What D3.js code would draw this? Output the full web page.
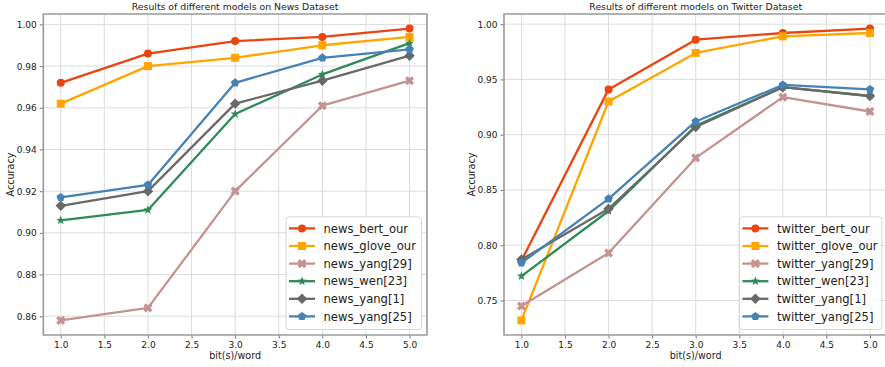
<!DOCTYPE html>
<html>
<head>
<meta charset="utf-8">
<script src="https://cdn.jsdelivr.net/npm/d3@7/dist/d3.min.js"></script>
<style>
  html, body { margin: 0; padding: 0; background: #fff; }
  svg { display: block; }
  text { font-family: "DejaVu Sans", sans-serif; fill: #222; }
</style>
</head>
<body>
<svg id="chart" width="885" height="367"></svg>
<script>
// Bits embedded per word (x axis)
const bits = [1, 2, 3, 4, 5];
const xTicks = [1.0, 1.5, 2.0, 2.5, 3.0, 3.5, 4.0, 4.5, 5.0];

// News dataset accuracies
const newsBertOur  = [0.972, 0.986, 0.992, 0.994, 0.998];
const newsGloveOur = [0.962, 0.980, 0.984, 0.990, 0.994];
const newsYang29   = [0.858, 0.864, 0.920, 0.961, 0.973];
const newsWen23    = [0.906, 0.911, 0.957, 0.976, 0.991];
const newsYang1    = [0.913, 0.920, 0.962, 0.973, 0.985];
const newsYang25   = [0.917, 0.923, 0.972, 0.984, 0.988];
const newsYTicks   = [0.86, 0.88, 0.90, 0.92, 0.94, 0.96, 0.98, 1.00];

// Twitter dataset accuracies
const twBertOur  = [0.786, 0.941, 0.986, 0.992, 0.996];
const twGloveOur = [0.732, 0.930, 0.974, 0.989, 0.992];
const twYang29   = [0.745, 0.793, 0.879, 0.934, 0.921];
const twWen23    = [0.772, 0.831, 0.908, 0.943, 0.935];
const twYang1    = [0.787, 0.833, 0.907, 0.943, 0.935];
const twYang25   = [0.784, 0.842, 0.912, 0.945, 0.941];
const twYTicks   = [0.75, 0.80, 0.85, 0.90, 0.95, 1.00];

const models = ["bert_our", "glove_our", "yang[29]", "wen[23]", "yang[1]", "yang[25]"];
const colors = ["#ea4410", "#ffa500", "#c4938f", "#2e8b57", "#696969", "#4682b4"];

// Marker shapes: circle, square, filled X, star, diamond, pentagon
const xShape = { draw(ctx, size) {
  const r = Math.sqrt(size) / 2, w = r * 0.36;
  const inner = w * Math.SQRT2;
  const outline = [];
  for (let k = 0; k < 4; k++) {
    const a = Math.PI / 4 + k * Math.PI / 2;
    const c = Math.cos(a), s = Math.sin(a);
    outline.push([r * c + w * s, r * s - w * c]);
    outline.push([r * c - w * s, r * s + w * c]);
    const b = a + Math.PI / 4;
    outline.push([inner * Math.cos(b), inner * Math.sin(b)]);
  }
  ctx.moveTo(outline[0][0], outline[0][1]);
  for (let i = 1; i < outline.length; i++) ctx.lineTo(outline[i][0], outline[i][1]);
  ctx.closePath();
}};
const polyShape = (n, rot, ratio) => ({ draw(ctx, size) {
  const r = Math.sqrt(size) / 2;
  const steps = ratio ? n * 2 : n;
  for (let i = 0; i < steps; i++) {
    const a = rot + i * 2 * Math.PI / steps;
    const rr = ratio && i % 2 ? r * ratio : r;
    const px = rr * Math.cos(a), py = rr * Math.sin(a);
    i ? ctx.lineTo(px, py) : ctx.moveTo(px, py);
  }
  ctx.closePath();
}});
const shapes = [
  { type: d3.symbolCircle, size: 50 },
  { type: d3.symbolSquare, size: 64 },
  { type: xShape, size: 90 },
  { type: polyShape(5, -Math.PI / 2, 0.42), size: 90 },
  { type: polyShape(4, 0, 0), size: 110 },
  { type: polyShape(5, -Math.PI / 2, 0), size: 80 }
];

const svg = d3.select("#chart");

function panel(opt) {
  const { left, right, top, bottom, yDomain, yTicks, yFmt, series, prefix, title, clipRight } = opt;
  const g = svg.append("g");
  const x = d3.scaleLinear().domain([0.8, 5.2]).range([left, right]);
  const y = d3.scaleLinear().domain(yDomain).range([bottom, top]);

  // grid
  g.append("g").selectAll("line").data(xTicks).join("line")
    .attr("x1", d => x(d)).attr("x2", d => x(d)).attr("y1", top).attr("y2", bottom)
    .attr("stroke", "#dcdcdc").attr("stroke-width", 1);
  g.append("g").selectAll("line").data(yTicks).join("line")
    .attr("x1", left).attr("x2", right).attr("y1", d => y(d)).attr("y2", d => y(d))
    .attr("stroke", "#dcdcdc").attr("stroke-width", 1);

  // axes
  const xAxis = g.append("g").attr("transform", `translate(0,${bottom})`)
    .call(d3.axisBottom(x).tickValues(xTicks).tickFormat(d3.format(".1f")).tickSize(3.5).tickPadding(3));
  const yAxis = g.append("g").attr("transform", `translate(${left},0)`)
    .call(d3.axisLeft(y).tickValues(yTicks).tickFormat(d3.format(yFmt)).tickSize(3.5).tickPadding(3));
  [xAxis, yAxis].forEach(a => {
    a.select(".domain").remove();
    a.selectAll(".tick line").attr("stroke", "#555").attr("stroke-width", 0.8);
    a.selectAll(".tick text").attr("font-size", 9).attr("fill", "#222")
      .attr("font-family", "DejaVu Sans, sans-serif");
  });

  // lines + markers
  const line = d3.line().x((d, i) => x(bits[i])).y(d => y(d));
  series.forEach((vals, k) => {
    g.append("path").datum(vals).attr("d", line)
      .attr("fill", "none").attr("stroke", colors[k]).attr("stroke-width", 2.3)
      .attr("stroke-linejoin", "round");
    g.append("g").selectAll("path").data(vals).join("path")
      .attr("transform", (d, i) => `translate(${x(bits[i])},${y(d)})`)
      .attr("d", d3.symbol().type(shapes[k].type).size(shapes[k].size))
      .attr("fill", colors[k]);
  });

  // frame
  g.append("path")
    .attr("d", clipRight
      ? `M${right},${top}H${left}V${bottom}H${right}`
      : `M${left},${top}H${right}V${bottom}H${left}Z`)
    .attr("fill", "none").attr("stroke", "#9a9a9a").attr("stroke-width", 1.6);

  // title & labels
  g.append("text").attr("x", (left + right) / 2).attr("y", 10).attr("text-anchor", "middle")
    .attr("font-size", 9.3).text(title);
  g.append("text").attr("x", (left + right) / 2).attr("y", 359).attr("text-anchor", "middle")
    .attr("font-size", 9.6).text("bit(s)/word");
  g.append("text").attr("transform", `translate(${left - 29},${(top + bottom) / 2}) rotate(-90)`)
    .attr("text-anchor", "middle").attr("font-size", 9.6).text("Accuracy");

  // legend (lower right)
  const lw = opt.legendW, rowH = 17.6, lh = rowH * 6 + 7;
  const lx = right - 5.5 - lw, ly = bottom - 5.5 - lh;
  const lg = g.append("g").attr("transform", `translate(${lx},${ly})`);
  lg.append("rect").attr("width", lw).attr("height", lh).attr("rx", 3)
    .attr("fill", "rgba(255,255,255,0.85)").attr("stroke", "#d6d6d6").attr("stroke-width", 1);
  models.forEach((m, k) => {
    const cy = 11.5 + k * rowH;
    lg.append("line").attr("x1", 3).attr("x2", 29).attr("y1", cy).attr("y2", cy)
      .attr("stroke", colors[k]).attr("stroke-width", 2.3);
    lg.append("path").attr("transform", `translate(16,${cy})`)
      .attr("d", d3.symbol().type(shapes[k].type).size(shapes[k].size))
      .attr("fill", colors[k]);
    lg.append("text").attr("x", 37.5).attr("y", cy).attr("dy", "0.36em")
      .attr("font-size", 11.6).text(prefix + "_" + m);
  });
}

panel({
  left: 43.3, right: 427, top: 14, bottom: 335,
  yDomain: [0.851, 1.005], yTicks: newsYTicks, yFmt: ".2f",
  series: [newsBertOur, newsGloveOur, newsYang29, newsWen23, newsYang1, newsYang25],
  prefix: "news", title: "Results of different models on News Dataset", legendW: 135.5
});
panel({
  left: 504, right: 887.4, top: 14, bottom: 335,
  yDomain: [0.7188, 1.0092], yTicks: twYTicks, yFmt: ".2f",
  series: [twBertOur, twGloveOur, twYang29, twWen23, twYang1, twYang25],
  prefix: "twitter", title: "Results of different models on Twitter Dataset", legendW: 142.5,
  clipRight: true
});
</script>
</body>
</html>
